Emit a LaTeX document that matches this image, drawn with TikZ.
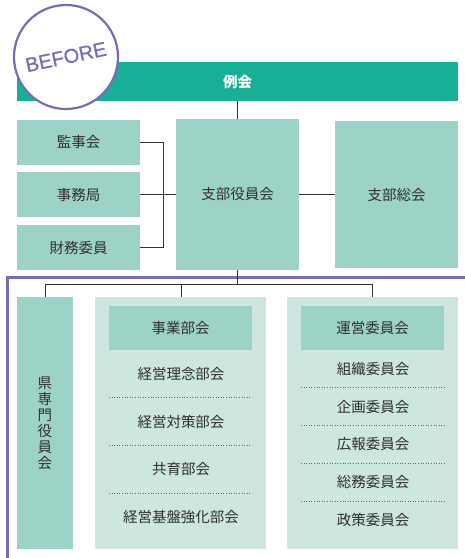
\documentclass[tikz,border=0pt]{standalone}
\usepackage{fontspec}
\setmainfont{Noto Sans CJK JP}
\newfontfamily\latinsans[FakeBold=0.8]{Liberation Sans}
\definecolor{barteal}{HTML}{17B096}
\definecolor{boxteal}{HTML}{9DD3C6}
\definecolor{paneteal}{HTML}{CDE6E0}
\definecolor{framepurple}{HTML}{7A6CB4}
\definecolor{txt}{HTML}{2E2E2E}
\begin{document}
\begin{tikzpicture}[x=1pt,y=-1pt,
  every node/.style={inner sep=0pt,outer sep=0pt},
  tbox/.style={fill=boxteal,font=\fontsize{14.5}{16}\selectfont,text=txt,anchor=north west},
  pane/.style={fill=paneteal,anchor=north west},
  item/.style={font=\fontsize{14.5}{16}\selectfont,text=txt},
  conn/.style={draw=black!80,line width=0.8pt},
  dots/.style={draw=black!60,line width=0.6pt,dotted}]
\useasboundingbox (0,0) rectangle (465,558);
% top bar
\node[fill=barteal,minimum width=441,minimum height=39,anchor=north west,text=white,font=\fontsize{14.5}{16}\selectfont\bfseries] (reikai) at (17,62) {例会};
% left boxes
\node[tbox,minimum width=123,minimum height=45] (kanji) at (17,120) {監事会};
\node[tbox,minimum width=123,minimum height=45] (jimu) at (17,172) {事務局};
\node[tbox,minimum width=123,minimum height=45] (zaimu) at (17,225) {財務委員};
% centre
\node[tbox,minimum width=123,minimum height=151] (yakuin) at (176,119) {支部役員会};
\node[tbox,minimum width=123,minimum height=147] (sokai) at (335,121) {支部総会};
% connectors top
\coordinate (brk) at (163,195);
\draw[conn] (kanji.east) -- (kanji.east -| brk) -- (zaimu.east -| brk) -- (zaimu.east);
\draw[conn] (jimu.east) -- (yakuin.west |- jimu.east);
\draw[conn] (yakuin.east |- sokai.west) -- (sokai.west);
\draw[conn] (reikai.south -| 237,0) -- (yakuin.north -| 237,0);
% purple frame
\draw[framepurple,line width=3pt] (7,559) -- (7,277) -- (466,277);
% lower panels
\node[tbox,minimum width=56,minimum height=252,align=center] (ken) at (17,297) {県\\専\\門\\役\\員\\会};
\node[pane,minimum width=171,minimum height=252] (jigyo) at (95,297) {};
\node[tbox,minimum width=143,minimum height=44] (jigyoh) at (109,306) {事業部会};
\node[pane,minimum width=171,minimum height=252] (unei) at (287,297) {};
\node[tbox,minimum width=143,minimum height=44] (uneih) at (301,306) {運営委員会};
% lower connectors
\coordinate (hub) at (237,284);
\draw[conn] (yakuin.south -| hub) -- (hub);
\draw[conn] (ken.north) -- (ken.north |- hub) -- (unei.north |- hub) -- (unei.north);
\draw[conn] (jigyo.north -| 181,0) -- (181,284);
% jigyo items
\node[item] (j1) at (181,374) {経営理念部会};
\node[item] (j2) at (181,422) {経営対策部会};
\node[item] (j3) at (181,469) {共育部会};
\node[item] (j4) at (181,517) {経営基盤強化部会};
\foreach \y in {397,445,493} \draw[dots] (109,\y) -- (252,\y);
% unei items
\node[item] (u1) at (373,369) {組織委員会};
\node[item] (u2) at (373,407) {企画委員会};
\node[item] (u3) at (373,444) {広報委員会};
\node[item] (u4) at (373,482) {総務委員会};
\node[item] (u5) at (373,520) {政策委員会};
\foreach \y in {387,425,463,501} \draw[dots] (301,\y) -- (445,\y);
% BEFORE badge
\node[circle,draw=framepurple,line width=2.2pt,fill=white,minimum size=104,rotate=12,text=framepurple,font=\latinsans\fontsize{20}{20}\selectfont] (badge) at (66,57) {BEFORE};
\end{tikzpicture}
\end{document}
